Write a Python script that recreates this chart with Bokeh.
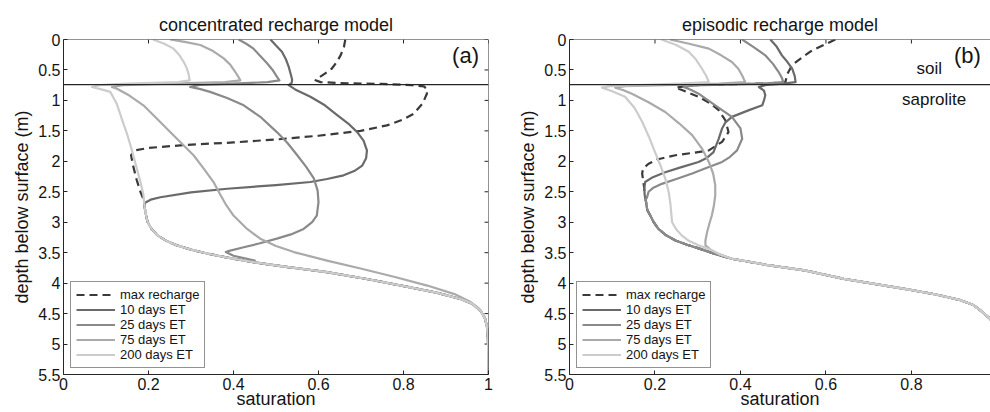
import math
from bokeh.plotting import figure
from bokeh.models import (Range1d, FixedTicker, Legend, LegendItem, Label, Span)
from bokeh.layouts import row
from bokeh.embed import file_html
from bokeh.resources import INLINE

FONT = "Liberation Sans"

# ---------------- data : (a) concentrated recharge model ----------------
a_tail_sat = [0.190, 0.193, 0.198, 0.208, 0.222, 0.243, 0.267, 0.300, 0.335, 0.385, 0.450, 0.520,
              0.620, 0.720, 0.816, 0.880, 0.934, 0.962, 0.981, 0.992, 0.997, 0.999, 1.000]
a_tail_dep = [2.70, 2.85, 3.00, 3.12, 3.22, 3.31, 3.38, 3.45, 3.51, 3.58, 3.66, 3.73,
              3.82, 3.94, 4.07, 4.16, 4.26, 4.34, 4.45, 4.58, 4.74, 5.00, 5.50]

a_max_sat = [0.663, 0.660, 0.652, 0.643, 0.631, 0.615, 0.600, 0.593, 0.605, 0.650, 0.750, 0.820, 0.848,
             0.856, 0.855, 0.845, 0.824, 0.800, 0.761, 0.699, 0.600, 0.502, 0.400, 0.290, 0.200,
             0.169, 0.159, 0.163, 0.172, 0.181, 0.188]
a_max_dep = [0.00, 0.12, 0.26, 0.37, 0.48, 0.56, 0.63, 0.67, 0.70, 0.715, 0.73, 0.75, 0.77,
             0.82, 0.89, 1.05, 1.22, 1.31, 1.41, 1.50, 1.58, 1.64, 1.69, 1.73, 1.78,
             1.82, 1.90, 2.05, 2.30, 2.50, 2.62]

a_d10_sat = [0.487, 0.500, 0.514, 0.523, 0.530, 0.535, 0.538, 0.537, 0.530, 0.545, 0.581, 0.615, 0.644,
             0.670, 0.691, 0.706, 0.714, 0.712, 0.703, 0.684, 0.659, 0.620, 0.581, 0.500, 0.385,
             0.300, 0.228, 0.205, 0.192]
a_d10_dep = [0.00, 0.10, 0.20, 0.32, 0.45, 0.58, 0.66, 0.71, 0.75, 0.82, 0.94, 1.08, 1.24,
             1.38, 1.52, 1.66, 1.82, 1.95, 2.07, 2.16, 2.23, 2.29, 2.34, 2.39, 2.45,
             2.51, 2.59, 2.63, 2.68]

a_d25_sat = [0.412, 0.430, 0.447, 0.463, 0.479, 0.492, 0.502, 0.508, 0.480, 0.400, 0.320, 0.298, 0.320,
             0.345, 0.385, 0.424, 0.465, 0.502, 0.527, 0.550, 0.571, 0.589, 0.598, 0.600, 0.596,
             0.585, 0.565, 0.535, 0.502, 0.460, 0.424, 0.390, 0.382, 0.400, 0.450]
a_d25_dep = [0.00, 0.07, 0.15, 0.27, 0.39, 0.50, 0.61, 0.67, 0.70, 0.725, 0.745, 0.78, 0.81,
             0.86, 0.96, 1.08, 1.28, 1.52, 1.70, 1.90, 2.09, 2.28, 2.48, 2.67, 2.89,
             3.00, 3.11, 3.20, 3.27, 3.35, 3.41, 3.47, 3.49, 3.55, 3.63]

a_d75_sat = [0.251, 0.285, 0.322, 0.352, 0.377, 0.393, 0.404, 0.412, 0.416, 0.380, 0.250, 0.140, 0.114,
             0.126, 0.155, 0.188, 0.220, 0.251, 0.280, 0.306, 0.330, 0.353, 0.370, 0.383, 0.400,
             0.432, 0.463, 0.500, 0.542, 0.620, 0.699, 0.780, 0.856, 0.920, 0.958, 0.978, 0.989,
             0.996, 1.000, 1.000]
a_d75_dep = [0.00, 0.04, 0.09, 0.19, 0.31, 0.42, 0.53, 0.62, 0.67, 0.70, 0.725, 0.75, 0.78,
             0.81, 0.92, 1.08, 1.30, 1.52, 1.72, 1.90, 2.12, 2.34, 2.56, 2.72, 2.89,
             3.11, 3.27, 3.39, 3.49, 3.63, 3.76, 3.90, 4.04, 4.18, 4.31, 4.42, 4.53,
             4.68, 4.86, 5.50]

a_d200_sat = [0.2105, 0.237, 0.259, 0.272, 0.283, 0.290, 0.294, 0.297, 0.270, 0.150, 0.085, 0.067, 0.085,
              0.110, 0.125, 0.137, 0.150, 0.161, 0.171, 0.181, 0.188]
a_d200_dep = [0.00, 0.07, 0.15, 0.25, 0.37, 0.47, 0.56, 0.67, 0.70, 0.725, 0.75, 0.78, 0.81,
              0.86, 1.05, 1.30, 1.56, 1.82, 2.08, 2.34, 2.55]

# ---------------- data : (b) episodic recharge model ----------------
b_tail_sat = [0.178, 0.182, 0.189, 0.197, 0.208, 0.225, 0.248, 0.275, 0.302, 0.340, 0.380, 0.460,
              0.550, 0.642, 0.720, 0.798, 0.860, 0.915, 0.945, 0.962, 0.985, 0.995, 1.000, 1.000]
b_tail_dep = [2.62, 2.80, 2.89, 3.00, 3.11, 3.21, 3.30, 3.37, 3.43, 3.52, 3.60, 3.70,
              3.79, 3.93, 4.02, 4.11, 4.19, 4.28, 4.36, 4.45, 4.59, 4.80, 5.00, 5.50]

b_max_sat = [0.622, 0.595, 0.568, 0.545, 0.521, 0.510, 0.505, 0.470, 0.380, 0.290, 0.248, 0.260, 0.302,
             0.330, 0.349, 0.365, 0.372, 0.357, 0.326, 0.290, 0.248, 0.205, 0.185, 0.172, 0.170,
             0.174, 0.176]
b_max_dep = [0.00, 0.09, 0.176, 0.29, 0.42, 0.56, 0.70, 0.72, 0.735, 0.75, 0.79, 0.82, 0.94,
             1.05, 1.16, 1.33, 1.52, 1.68, 1.82, 1.86, 1.90, 1.97, 2.04, 2.12, 2.20,
             2.40, 2.52]

b_d10_sat = [0.470, 0.485, 0.497, 0.510, 0.521, 0.527, 0.529, 0.500, 0.460, 0.443, 0.455, 0.458, 0.455,
             0.451, 0.420, 0.380, 0.365, 0.357, 0.349, 0.337, 0.322, 0.302, 0.260, 0.224, 0.195,
             0.177, 0.175, 0.176]
b_d10_dep = [0.00, 0.12, 0.26, 0.37, 0.48, 0.60, 0.70, 0.725, 0.745, 0.78, 0.84, 0.915, 1.00,
             1.08, 1.16, 1.27, 1.36, 1.46, 1.63, 1.85, 1.94, 2.01, 2.10, 2.18, 2.26,
             2.34, 2.45, 2.56]

b_d25_sat = [0.404, 0.430, 0.458, 0.476, 0.489, 0.497, 0.500, 0.460, 0.360, 0.290, 0.267, 0.285, 0.302,
             0.341, 0.380, 0.400, 0.404, 0.392, 0.375, 0.357, 0.320, 0.287, 0.250, 0.216, 0.195,
             0.185, 0.181]
b_d25_dep = [0.00, 0.12, 0.26, 0.40, 0.53, 0.63, 0.70, 0.72, 0.74, 0.755, 0.78, 0.83, 0.89,
             1.08, 1.27, 1.46, 1.63, 1.82, 1.93, 2.01, 2.11, 2.20, 2.29, 2.37, 2.44,
             2.50, 2.60]

b_d75_sat = [0.235, 0.280, 0.326, 0.355, 0.380, 0.395, 0.404, 0.411, 0.350, 0.220, 0.130, 0.107, 0.125,
             0.146, 0.185, 0.224, 0.257, 0.287, 0.310, 0.326, 0.336, 0.341, 0.341, 0.338, 0.333,
             0.327, 0.322, 0.318, 0.318, 0.330, 0.349, 0.380]
b_d75_dep = [0.00, 0.07, 0.15, 0.26, 0.37, 0.48, 0.59, 0.70, 0.725, 0.75, 0.765, 0.79, 0.83,
             0.89, 1.03, 1.19, 1.38, 1.57, 1.79, 2.01, 2.20, 2.39, 2.56, 2.72, 2.89,
             3.03, 3.16, 3.30, 3.38, 3.45, 3.52, 3.60]

b_d200_sat = [0.215, 0.250, 0.279, 0.296, 0.310, 0.320, 0.326, 0.260, 0.160, 0.095, 0.076, 0.100, 0.130,
              0.152, 0.170, 0.186, 0.200, 0.213, 0.224, 0.232, 0.236, 0.240, 0.250, 0.263, 0.280,
              0.302, 0.330, 0.349, 0.380]
b_d200_dep = [0.00, 0.09, 0.20, 0.33, 0.48, 0.60, 0.70, 0.725, 0.75, 0.765, 0.79, 0.85, 0.94,
              1.12, 1.35, 1.60, 1.85, 2.07, 2.28, 2.50, 2.69, 3.00, 3.12, 3.22, 3.31,
              3.38, 3.45, 3.52, 3.60]

soil_depth = 0.74
series_labels = ["max recharge", "10 days ET", "25 days ET", "75 days ET", "200 days ET"]
x_ticks_a = [0, 0.2, 0.4, 0.6, 0.8, 1]
x_ticks_b = [0, 0.2, 0.4, 0.6, 0.8]
y_ticks = [0, 0.5, 1, 1.5, 2, 2.5, 3, 3.5, 4, 4.5, 5, 5.5]
x_tick_text = {0: "0", 0.2: "0.2", 0.4: "0.4", 0.6: "0.6", 0.8: "0.8", 1: "1"}
y_tick_text = {0: "0", 0.5: "0.5", 1: "1", 1.5: "1.5", 2: "2", 2.5: "2.5", 3: "3",
               3.5: "3.5", 4: "4", 4.5: "4.5", 5: "5", 5.5: "5.5"}


def with_tail(sat, dep, tail_sat, tail_dep):
    last = dep[-1]
    ts = [s for s, d in zip(tail_sat, tail_dep) if d > last]
    td = [d for d in tail_dep if d > last]
    return sat + ts, dep + td


COLORS = ["#3a3a3a", "#6a6a6a", "#8a8a8a", "#aaaaaa", "#cccccc"]
DASHES = ["8 5", "solid", "solid", "solid", "solid"]
AXC = "#262626"
TXT = "#141414"


def style_axis(ax):
    ax.axis_line_color = AXC
    ax.axis_line_width = 1
    ax.major_tick_line_color = AXC
    ax.major_tick_in = 4
    ax.major_tick_out = 0
    ax.minor_tick_line_color = None
    ax.major_label_text_font = FONT
    ax.major_label_text_font_size = "16px"
    ax.major_label_text_color = TXT
    ax.major_label_standoff = 3


def set_axis_label(ax, text, standoff):
    ax.axis_label = text
    ax.axis_label_text_font = FONT
    ax.axis_label_text_font_size = "18px"
    ax.axis_label_text_font_style = "normal"
    ax.axis_label_text_color = TXT
    ax.axis_label_standoff = standoff


def make_panel(width, border_left, border_right, x_end, x_ticks, curves, title, tag,
               right_edge, extra_text):
    p = figure(width=width, height=412, output_backend="svg", toolbar_location=None,
               title=title, x_range=Range1d(0, x_end), y_range=Range1d(5.5, 0),
               min_border_left=border_left, min_border_right=border_right,
               min_border_top=39, min_border_bottom=38)
    p.outline_line_color = None
    p.xgrid.visible = False
    p.ygrid.visible = False
    p.background_fill_color = "white"
    p.border_fill_color = "white"

    p.title.align = "center"
    p.title.text_font = FONT
    p.title.text_font_size = "18px"
    p.title.text_font_style = "normal"
    p.title.text_color = TXT

    xt = FixedTicker(ticks=x_ticks)
    yt = FixedTicker(ticks=y_ticks)
    p.xaxis[0].ticker = xt
    p.yaxis[0].ticker = yt
    p.xaxis[0].major_label_overrides = x_tick_text
    p.yaxis[0].major_label_overrides = y_tick_text
    style_axis(p.xaxis[0])
    style_axis(p.yaxis[0])
    set_axis_label(p.yaxis[0], "depth below surface (m)", 3)
    set_axis_label(p.xaxis[0], "saturation", -4)

    # box edges (top, and right for the full panel) with inward ticks
    p.add_layout(Span(location=0, dimension="width", line_color=AXC, line_width=1))
    p.ray(x=x_ticks, y=[0] * len(x_ticks), length=4, length_units="screen",
          angle=-math.pi / 2, line_color=AXC, line_width=1)
    if right_edge:
        p.add_layout(Span(location=x_end, dimension="height", line_color=AXC, line_width=1))
        p.ray(x=[x_end] * len(y_ticks), y=y_ticks, length=4, length_units="screen",
              angle=math.pi, line_color=AXC, line_width=1)

    items = []
    for (sat, dep), lab, col, dash in zip(curves, series_labels, COLORS, DASHES):
        r = p.line(sat, dep, line_color=col, line_width=2.2, line_dash=dash,
                   line_join="round", line_cap="butt")
        items.append(LegendItem(label=lab, renderers=[r]))

    p.add_layout(Span(location=soil_depth, dimension="width", line_color=AXC, line_width=1.3))

    leg = Legend(items=items, location=(7, 6))
    leg.label_text_font = FONT
    leg.label_text_font_size = "13px"
    leg.label_text_color = TXT
    leg.label_height = 15
    leg.glyph_height = 15
    leg.glyph_width = 39
    leg.label_standoff = 5
    leg.spacing = 0
    leg.padding = 5
    leg.margin = 0
    leg.border_line_color = AXC
    leg.border_line_width = 1
    leg.background_fill_alpha = 1
    p.add_layout(leg, "center")

    p.add_layout(Label(x=tag[1], y=0.26, text=tag[0], text_font=FONT, text_font_size="22px",
                       text_color=TXT, text_align="center", text_baseline="middle"))
    for (txt, x, y) in extra_text:
        p.add_layout(Label(x=x, y=y, text=txt, text_font=FONT, text_font_size="17px",
                           text_color=TXT, text_align="left", text_baseline="middle"))
    return p


curves_a = [with_tail(a_max_sat, a_max_dep, a_tail_sat, a_tail_dep),
            with_tail(a_d10_sat, a_d10_dep, a_tail_sat, a_tail_dep),
            with_tail(a_d25_sat, a_d25_dep, a_tail_sat, a_tail_dep),
            (a_d75_sat, a_d75_dep),
            with_tail(a_d200_sat, a_d200_dep, a_tail_sat, a_tail_dep)]
curves_b = [with_tail(b_max_sat, b_max_dep, b_tail_sat, b_tail_dep),
            with_tail(b_d10_sat, b_d10_dep, b_tail_sat, b_tail_dep),
            with_tail(b_d25_sat, b_d25_dep, b_tail_sat, b_tail_dep),
            with_tail(b_d75_sat, b_d75_dep, b_tail_sat, b_tail_dep),
            with_tail(b_d200_sat, b_d200_dep, b_tail_sat, b_tail_dep)]

p1 = make_panel(498, 63, 10, 1.0, x_ticks_a, curves_a, "concentrated recharge model",
                ("(a)", 0.946), True, [])
p2 = make_panel(492, 71, 0, 0.985, x_ticks_b, curves_b, "episodic recharge model",
                ("(b)", 0.931), False, [("soil", 0.812, 0.48), ("saprolite", 0.778, 0.99)])

layout = row(p1, p2)
open("out.html", "w").write(file_html(layout, INLINE))
